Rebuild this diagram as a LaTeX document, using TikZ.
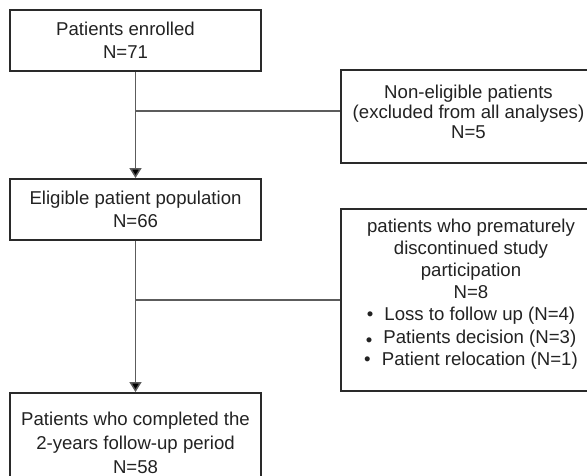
\documentclass[tikz,border=0pt]{standalone}
\usepackage{fontspec}
\setmainfont{Liberation Sans}
\usetikzlibrary{arrows.meta,positioning}

\definecolor{boxcol}{HTML}{2A2A2A}
\definecolor{linkcol}{HTML}{5C5C5C}
\definecolor{txtcol}{HTML}{222222}

\begin{document}
\begin{tikzpicture}[x=0.5pt,y=-0.5pt,
    box/.style={draw=boxcol,line width=0.95pt,align=center,text=txtcol,inner sep=0pt},
    link/.style={draw=linkcol,line width=0.75pt},
    flow/.style={link,-{Triangle[width=6pt,length=5pt,fill=black]}}]
    %
    % Independent parameters
    \def\px{0.5pt}                                  % one pixel
    \def\colX{135.5}                                % left column centre
    \def\sideX{470}                                 % right column centre
    %
    \useasboundingbox (0,0) rectangle (587,475);
    \clip (0,0) rectangle (587,475);
    %
    % main column
    \node[box,minimum width=251*\px,minimum height=61*\px,
          font=\fontsize{9.3}{11.4}\selectfont]
        (enrolled) at (\colX,40.5) {Patients enrolled\hspace*{10pt}\\N=71\hspace*{10pt}};
    \node[box,minimum width=251*\px,minimum height=61*\px,
          font=\fontsize{9.3}{11.2}\selectfont]
        (eligible) at (\colX,209.5) {Eligible patient population\\N=66};
    \node[box,minimum width=251*\px,minimum height=100*\px,
          font=\fontsize{9.3}{12}\selectfont]
        (completed) at (\colX,443) {Patients who completed the\\2-years follow-up period\\N=58};
    %
    % side boxes
    \node[box,minimum width=255*\px,minimum height=93*\px,
          font=\fontsize{9.3}{10.1}\selectfont]
        (nonelig) at (468.5,116.5)
        {Non-eligible patients\\(excluded from all analyses)\\N=5\rule[-5pt]{0pt}{0pt}};
    \node[box,minimum width=260*\px,minimum height=182*\px,
          font=\fontsize{9.3}{11.1}\selectfont]
        (discont) at (471,300)
        {patients who prematurely\\discontinued study\\participation\\N=8\\
         \textbullet\hspace{0.6em}Loss to follow up (N=4)\\
         \raisebox{-0.2em}{\textbullet}\hspace{0.6em}Patients decision (N=3)\\
         \textbullet\hspace{0.6em}Patient relocation (N=1)\rule[-8pt]{0pt}{0pt}};
    %
    % connectors
    \coordinate (split1) at (\colX,111);
    \coordinate (split2) at (\colX,300);
    \draw[flow] (enrolled) -- (eligible);
    \draw[flow] (eligible) -- (completed);
    \draw[link] (split1) -- (split1 -| nonelig.west);
    \draw[link] (split2) -- (discont.west);
\end{tikzpicture}
\end{document}
